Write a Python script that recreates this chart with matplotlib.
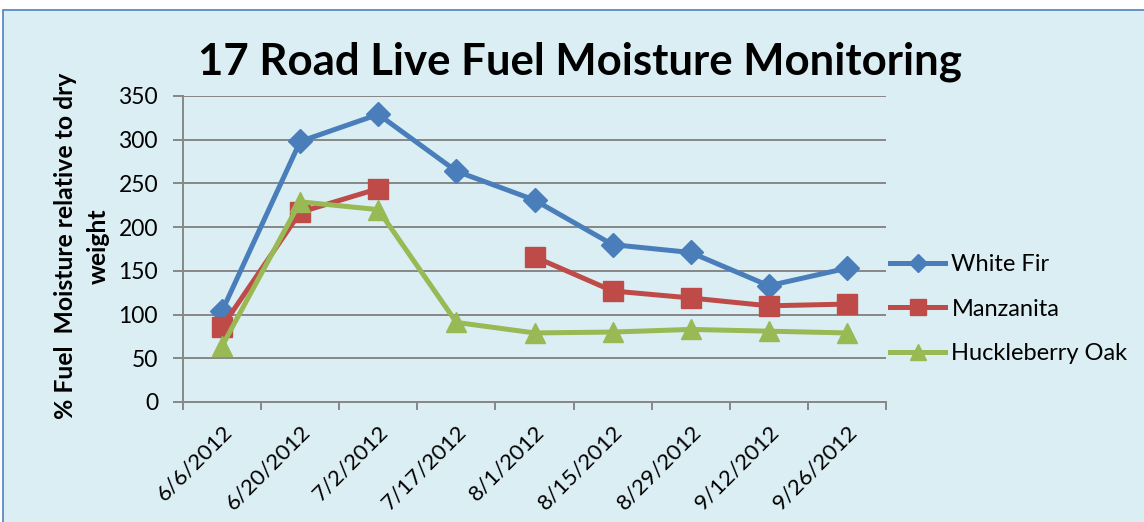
import numpy as np
import matplotlib
matplotlib.use("Agg")
import matplotlib.pyplot as plt
from matplotlib.patches import Rectangle

plt.rcParams['font.family'] = ['Lato', 'DejaVu Sans']

dates = ["6/6/2012", "6/20/2012", "7/2/2012", "7/17/2012", "8/1/2012",
         "8/15/2012", "8/29/2012", "9/12/2012", "9/26/2012"]
white_fir = [104, 298, 329, 264, 231, 180, 171, 133, 153]
manzanita = [86, 217, 244, np.nan, 166, 127, 119, 110, 112]
huckleberry_oak = [64, 229, 220, 91, 79, 80, 83, 81, 79]
yticks = [0, 50, 100, 150, 200, 250, 300, 350]

BG = "#dbeef4"
fig = plt.figure(figsize=(11.44, 5.22), dpi=100)
fig.patch.set_facecolor("white")
bg = Rectangle((3 / 1144, -0.01), 1.1, 1 - 10 / 522 + 0.01,
               transform=fig.transFigure, facecolor=BG,
               edgecolor="#4f81bd", linewidth=1.2, zorder=-5)
fig.patches.append(bg)

ax = fig.add_axes([183 / 1144, 1 - 402 / 522, (886 - 183) / 1144, (402 - 96) / 522])
ax.patch.set_alpha(0)
x = np.arange(len(dates))

ax.plot(x, white_fir, color="#4a7ebb", lw=3.6, marker="D", ms=12, label="White Fir", zorder=3)
ax.plot(x, manzanita, color="#be4b48", lw=3.6, marker="s", ms=14, label="Manzanita", zorder=4)
ax.plot(x, huckleberry_oak, color="#98b954", lw=3.6, marker="^", ms=15, label="Huckleberry Oak", zorder=5)

ax.set_xlim(-0.5, len(dates) - 0.5)
ax.set_ylim(0, 350)
ax.set_yticks(yticks)
ax.set_yticklabels([str(v) for v in yticks], fontsize=16.5)
ax.set_xticks(np.arange(-0.5, len(dates), 1.0))
ax.set_xticklabels([])
ax.set_xticks(x, minor=True)
ax.set_xticklabels(dates, minor=True, rotation=45, ha="right", rotation_mode="anchor", fontsize=16)
ax.tick_params(axis="x", which="minor", length=0, pad=14)
ax.tick_params(axis="x", which="major", length=6, width=1.4, color="#878787", direction="out")
ax.tick_params(axis="y", length=7, width=1.4, color="#878787", direction="out", pad=11)
ax.grid(axis="y", color="#878787", lw=1.4, zorder=1)
for s in ["top", "right"]:
    ax.spines[s].set_visible(False)
for s in ["left", "bottom"]:
    ax.spines[s].set_color("#878787")
    ax.spines[s].set_linewidth(1.4)

fig.text(580 / 1144, 1 - 74 / 522, "17 Road Live Fuel Moisture Monitoring",
         ha="center", va="baseline", fontsize=31.5, fontweight="bold")
fig.text(82 / 1144, 1 - 246 / 522, "% Fuel  Moisture relative to dry\nweight",
         ha="center", va="center", rotation=90, fontsize=17.8, fontweight="bold",
         linespacing=1.5)

leg = fig.legend(loc="center left", bbox_to_anchor=(890 / 1144, 1 - 309 / 522),
                 bbox_transform=fig.transFigure, frameon=False, markerscale=0.8,
                 fontsize=17, handlelength=2.35, labelspacing=1.0, handletextpad=0.25,
                 borderaxespad=0, borderpad=0)

fig.savefig("out.png", dpi=100, facecolor=fig.get_facecolor())
